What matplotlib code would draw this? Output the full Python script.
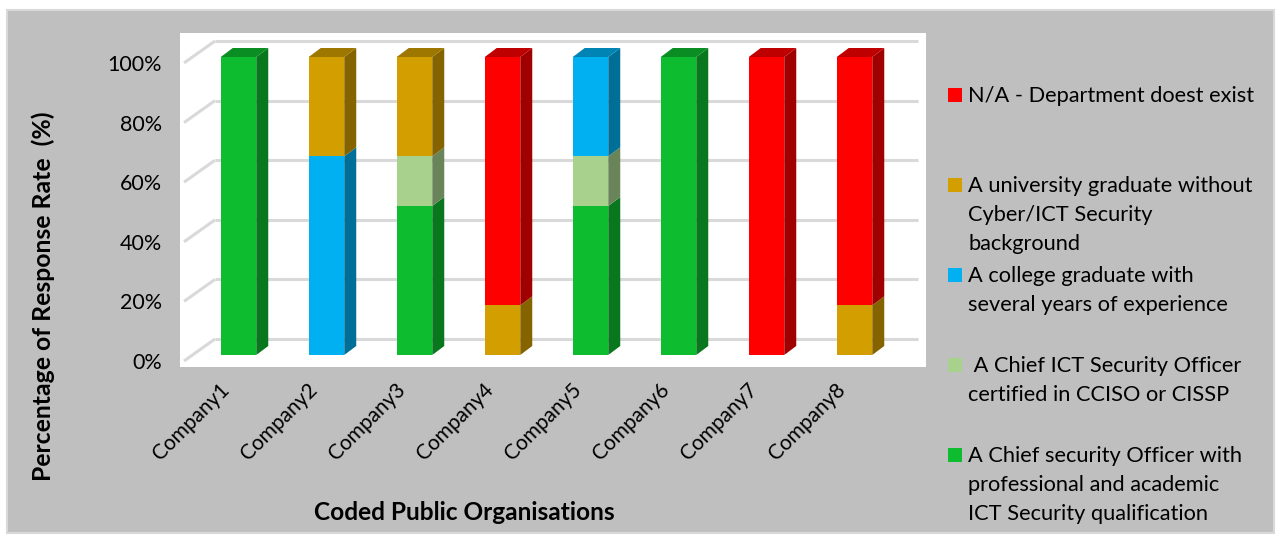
import numpy as np
import matplotlib.pyplot as plt
from matplotlib.patches import Rectangle, Polygon
from matplotlib.transforms import ScaledTranslation
from matplotlib.colors import to_rgb

plt.rcParams['font.family'] = ['Lato', 'DejaVu Sans']

companies = ['Company1', 'Company2', 'Company3', 'Company4',
             'Company5', 'Company6', 'Company7', 'Company8']

# response shares (%) per organisation, stacked bottom to top
chief_officer = [100, 0, 50, 0, 50, 100, 0, 0]
certified_ciso = [0, 0, 16.67, 0, 16.67, 0, 0, 0]
college_grad = [0, 66.67, 0, 0, 33.33, 0, 0, 0]
university_grad = [0, 33.33, 33.33, 16.67, 0, 0, 0, 16.67]
not_applicable = [0, 0, 0, 83.33, 0, 0, 100, 83.33]

series = [chief_officer, certified_ciso, college_grad, university_grad, not_applicable]
series_labels = [
    'A Chief security Officer with\nprofessional and academic\nICT Security qualification',
    ' A Chief ICT Security Officer\ncertified in CCISO or CISSP',
    'A college graduate with\nseveral years of experience',
    'A university graduate without\nCyber/ICT Security\nbackground',
    'N/A - Department doest exist',
]
colors = ['#0DBD2F', '#A9D18E', '#00B0F0', '#D39E00', '#FF0000']
yticks = [0, 20, 40, 60, 80, 100]


def shade(c, f):
    r, g, b = to_rgb(c)
    return (r * f, g * f, b * f)


W, H = 1277, 536
fig = plt.figure(figsize=(W / 100, H / 100), dpi=100)


def fx(x):
    return x / W


def fy(y):
    return 1 - y / H


# grey chart area
fig.patches.append(Rectangle((fx(7), fy(533)), fx(1274) - fx(7), fy(10) - fy(533),
                             transform=fig.transFigure, facecolor='#BFBFBF',
                             edgecolor='#D9D9D9', lw=1.5, zorder=-1))

ax = fig.add_axes([fx(180), fy(367), fx(926) - fx(180), fy(33) - fy(367)])
ax.set_zorder(1)
ax.set_facecolor('white')
for s in ax.spines.values():
    s.set_visible(False)

# data units per pixel
ux = 1 / 88
uy = 1 / 2.98
ax.set_xlim(-58.5 * ux, (926 - 238.5) * ux)
ax.set_ylim(-12 * uy, 322 * uy)

# pseudo-3d geometry
w = 35.5 * ux
dx, dy = 12 * ux, 9 * uy
back = 16 * uy
front = 6 * uy
x_back_left = (215 - 238.5) * ux
x_front_left = (184 - 238.5) * ux
x_right = (918 - 238.5) * ux

# back wall gridlines and their side-wall diagonals
for t in yticks:
    ax.plot([x_back_left, x_right], [t + back, t + back], color='#D9D9D9',
            lw=2.2, zorder=1, solid_capstyle='butt')
    ax.plot([x_front_left, x_back_left], [t - front, t + back], color='#D9D9D9',
            lw=2.2, zorder=1, solid_capstyle='butt')

x = np.arange(len(companies))
totals = np.sum(series, axis=0)
bottom = np.zeros(len(companies))
for vals, c in zip(series, colors):
    vals = np.array(vals, dtype=float)
    ax.bar(x, vals, bottom=bottom, width=w, color=c, zorder=3)
    for i in range(len(x)):
        if vals[i] <= 0:
            continue
        b, t = bottom[i], bottom[i] + vals[i]
        xr = x[i] + w / 2
        ax.add_patch(Polygon([(xr, b), (xr + dx, b + dy), (xr + dx, t + dy), (xr, t)],
                             closed=True, facecolor=shade(c, 0.63), edgecolor='none', zorder=3))
        if abs(t - totals[i]) < 1e-6:
            xl = x[i] - w / 2
            ax.add_patch(Polygon([(xl, t), (xl + dx, t + dy), (xr + dx, t + dy), (xr, t)],
                                 closed=True, facecolor=shade(c, 0.75), edgecolor='none', zorder=3))
    bottom += vals

ax.set_xticks(x, companies, rotation=45, ha='right', fontsize=15)
ax.tick_params(axis='x', length=0, pad=9)
offset = ScaledTranslation(-0.05, 0, fig.dpi_scale_trans)
for lab in ax.xaxis.get_majorticklabels():
    lab.set_transform(lab.get_transform() + offset)

ax.set_yticks([t - front for t in yticks], [f'{t}%' for t in yticks], fontsize=15.5)
ax.tick_params(axis='y', length=0, pad=13)

fig.text(fx(43), fy(296), 'Percentage of Response Rate  (%)', rotation=90,
         ha='center', va='center', fontweight='bold', fontsize=17.8)
fig.text(fx(464), fy(513), 'Coded Public Organisations', ha='center', va='center',
         fontweight='bold', fontsize=17.6)

# legend, top entry first
entry_y = [95, 185, 275, 365, 455]
for yy, lab, c in zip(entry_y, series_labels[::-1], colors[::-1]):
    fig.patches.append(Rectangle((fx(948), fy(yy + 7)), fx(962) - fx(948), fy(yy - 7) - fy(yy + 7),
                                 transform=fig.transFigure, facecolor=c, edgecolor='none'))
    for k, line in enumerate(lab.split('\n')):
        fig.text(fx(968), fy(yy + 7 + 29 * k), line, ha='left', va='baseline', fontsize=15.7)

fig.savefig('out.png', dpi=100)
